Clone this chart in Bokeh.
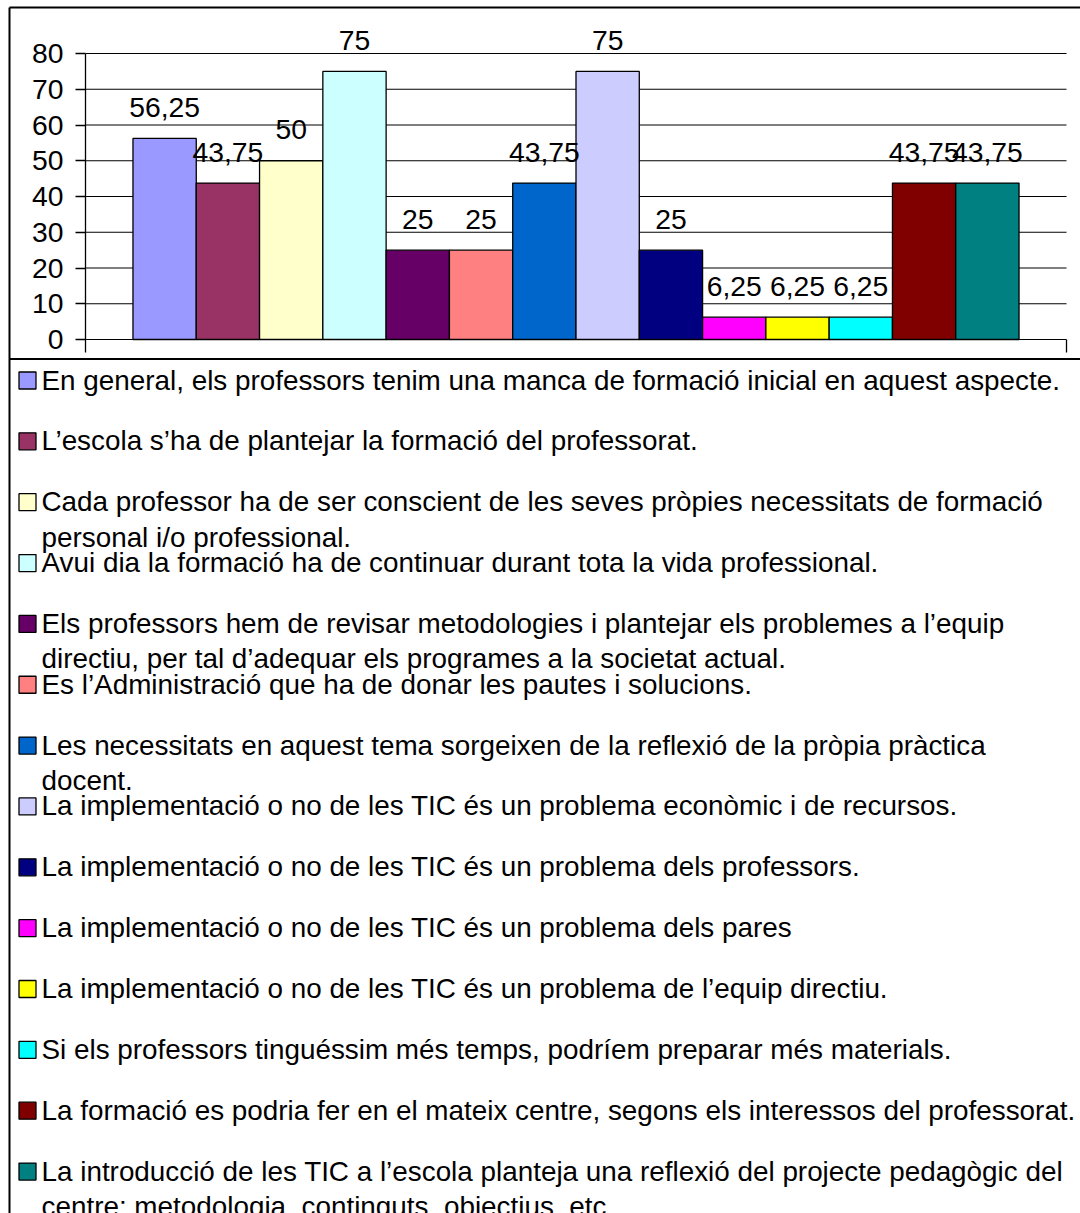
from bokeh.plotting import figure
from bokeh.models import Range1d, FixedTicker
from bokeh.core.properties import value
from bokeh.embed import file_html
from bokeh.resources import INLINE

# ---------------- data ----------------
categories = [
    "En general, els professors tenim una manca de formació inicial en aquest aspecte.",
    "L’escola s’ha de plantejar la formació del professorat.",
    "Cada professor ha de ser conscient de les seves pròpies necessitats de formació\npersonal i/o professional.",
    "Avui dia la formació ha de continuar durant tota la vida professional.",
    "Els professors hem de revisar metodologies i plantejar els problemes a l’equip\ndirectiu, per tal d’adequar els programes a la societat actual.",
    "Es l’Administració que ha de donar les pautes i solucions.",
    "Les necessitats en aquest tema sorgeixen de la reflexió de la pròpia pràctica\ndocent.",
    "La implementació o no de les TIC és un problema econòmic i de recursos.",
    "La implementació o no de les TIC és un problema dels professors.",
    "La implementació o no de les TIC és un problema dels pares",
    "La implementació o no de les TIC és un problema de l’equip directiu.",
    "Si els professors tinguéssim més temps, podríem preparar més materials.",
    "La formació es podria fer en el mateix centre, segons els interessos del professorat.",
    "La introducció de les TIC a l’escola planteja una reflexió del projecte pedagògic del\ncentre: metodologia, continguts, objectius, etc.",
]
values = [56.25, 43.75, 50, 75, 25, 25, 43.75, 75, 25, 6.25, 6.25, 6.25, 43.75, 43.75]
colors = ["#9999FF", "#993366", "#FFFFCC", "#CCFFFF", "#660066", "#FF8080", "#0066CC",
          "#CCCCFF", "#000080", "#FF00FF", "#FFFF00", "#00FFFF", "#800000", "#008080"]
y_ticks = [0, 10, 20, 30, 40, 50, 60, 70, 80]
labels = [f"{v:g}".replace(".", ",") for v in values]

# ---------------- layout constants (pixels) ----------------
FONT = "Liberation Sans"
FS_CHART = "28.3px"
FS_LEG = "27.85px"
BASE_FIX = 10           # empirical alphabetic-baseline correction
W, H = 1080, 1213
area_left, area_right = 85, 1066   # plot area (axis line .. right end)
y0_px, ymax_px = 339, 53           # pixel rows of 0 and of the top tick
axis_ext = 13                      # axis line / end ticks below the 0 line
y_max = y_ticks[-1]
ppu = (y0_px - ymax_px) / y_max
n = len(values)
x_start, x_end = -1.25, (n - 1) + 1.25
xppu = (area_right - area_left) / (x_end - x_start)
y_axis_low = -axis_ext / ppu

p = figure(width=W, height=H,
           x_range=Range1d(x_start - area_left / xppu, x_end + (W - area_right) / xppu),
           y_range=Range1d(-(H - y0_px) / ppu, y_max + ymax_px / ppu),
           output_backend="svg", toolbar_location=None, x_axis_location=None,
           title=None, min_border=0, min_border_left=0, min_border_right=0,
           min_border_top=0, min_border_bottom=0)
p.extra_x_ranges = {"px": Range1d(0, W)}
p.extra_y_ranges = {"py": Range1d(H, 0)}
p.background_fill_color = "white"
p.border_fill_color = "white"
p.outline_line_color = None
p.xgrid.visible = False
p.ygrid.visible = False

# y axis drawn inside the frame at the left end of the plot area
ax = p.yaxis[0]
ax.fixed_location = x_start
ax.ticker = FixedTicker(ticks=y_ticks)
ax.bounds = (y_axis_low, y_max)
ax.major_tick_out = 10
ax.major_tick_in = 0
ax.minor_tick_out = 0
ax.minor_tick_in = 0
ax.axis_line_color = "black"
ax.axis_line_width = 1.3
ax.major_tick_line_color = "black"
ax.major_tick_line_width = 1.3
ax.major_label_text_font = FONT
ax.major_label_text_font_size = FS_CHART
ax.major_label_text_color = "black"
ax.major_label_standoff = 12

# horizontal gridlines at the tick values
p.segment(x0=[x_start] * len(y_ticks), y0=y_ticks, x1=[x_end] * len(y_ticks), y1=y_ticks,
          line_color="black", line_width=1.2)
# right end tick of the category axis
p.segment(x0=[x_end], y0=[0], x1=[x_end], y1=[y_axis_low], line_color="black", line_width=1.3)

# bars + data labels
xs = list(range(n))
p.vbar(x=xs, top=values, bottom=0, width=1, fill_color=colors, line_color="black",
       line_width=1.3)
p.text(x=xs, y=values, text=labels, y_offset=-21 - BASE_FIX, text_align="center",
       text_baseline="alphabetic", text_font=value(FONT), text_font_size=value(FS_CHART),
       text_color="black")

# ---------------- borders (pixel ranges) ----------------
bx, by, leg_top = 9, 7, 358.5
p.segment(x0=[bx, bx, bx], y0=[by, by, leg_top], x1=[bx, W + 10, W + 10],
          y1=[H + 10, by, leg_top], line_color="black", line_width=2,
          x_range_name="px", y_range_name="py")

# ---------------- legend (pixel ranges) ----------------
centers = [380 + 60.85 * i for i in range(n)]
p.rect(x=[27] * n, y=centers, width=17, height=17, fill_color=colors,
       line_color="black", line_width=1.3, x_range_name="px", y_range_name="py")
tx, ty, tt = [], [], []
for i, cat in enumerate(categories):
    for j, line in enumerate(cat.split("\n")):
        tx.append(41)
        ty.append(centers[i] + 9.5 + 35.5 * j - BASE_FIX)
        tt.append(line)
p.text(x=tx, y=ty, text=tt, text_align="left", text_baseline="alphabetic",
       text_font=value(FONT), text_font_size=value(FS_LEG), text_color="black",
       x_range_name="px", y_range_name="py")

open("out.html", "w").write(file_html(p, INLINE))
